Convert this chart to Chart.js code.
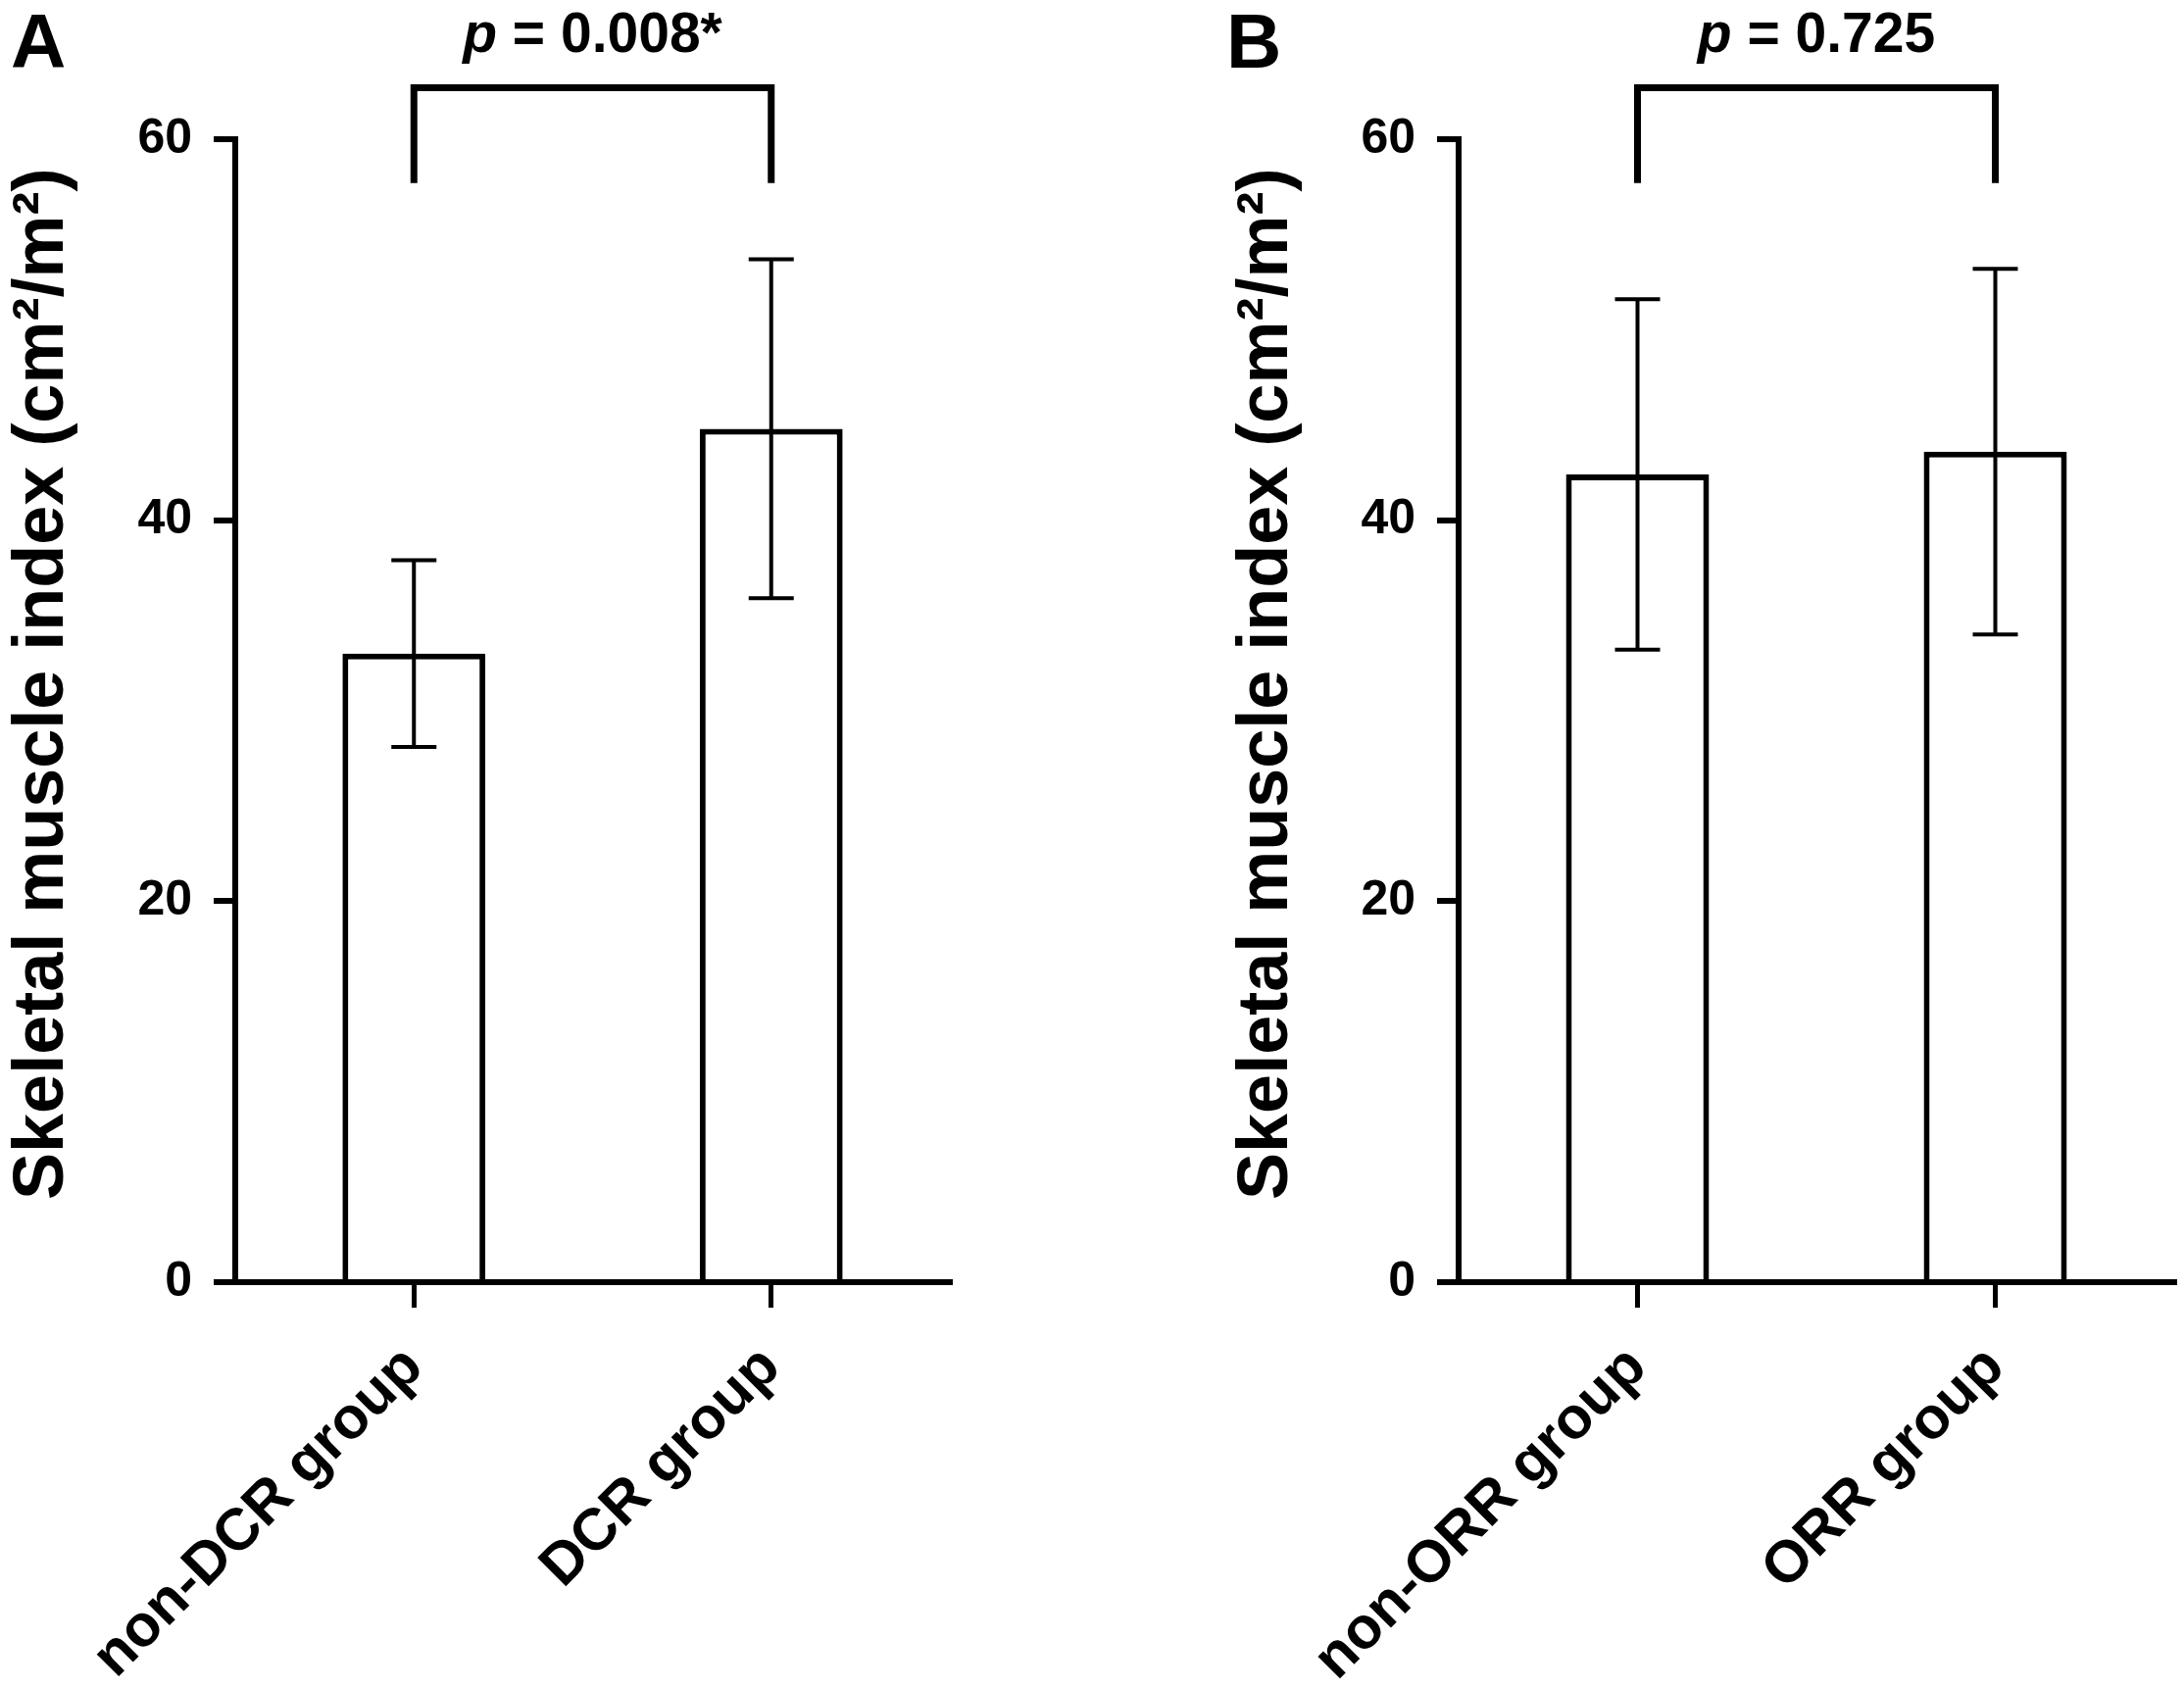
<!DOCTYPE html>
<html>
<head>
<meta charset="utf-8">
<script src="https://cdn.jsdelivr.net/npm/chart.js@4.4.1/dist/chart.umd.min.js"></script>
<style>
  html, body { margin: 0; padding: 0; background: #fff; }
  #wrap { position: relative; width: 2228px; height: 1722px; background: #fff; }
  canvas { position: absolute; top: 0; }
  #chartA { left: 0; }
  #chartB { left: 1114px; }
</style>
</head>
<body>
<div id="wrap">
  <canvas id="chartA" width="1114" height="1722"></canvas>
  <canvas id="chartB" width="1114" height="1722"></canvas>
</div>
<script>
// data (mean and SD)
const dcrGroups = ['non-DCR group', 'DCR group'];
const dcrMeans = [33.0, 44.8];
const dcrSd = [4.9, 8.9];

const orrGroups = ['non-ORR group', 'ORR group'];
const orrMeans = [42.4, 43.6];
const orrSd = [9.2, 9.6];

const yTicks = [0, 20, 40, 60];
const yTitle = 'Skeletal muscle index (cm²/m²)';

const FONT = '"Liberation Sans", Arial, Helvetica, sans-serif';

/* error bars (mean ± SD) drawn through the scales
------------------------------------------------*/
const errorBars = {
  id: 'errorBars',
  afterDatasetsDraw(chart, args, opts) {
    const ctx = chart.ctx;
    const x = chart.scales.x, y = chart.scales.y;
    ctx.save();
    ctx.strokeStyle = '#000';
    ctx.lineWidth = 4;
    opts.means.forEach((m, i) => {
      const px = x.getPixelForValue(i);
      const hi = y.getPixelForValue(m + opts.sd[i]);
      const lo = y.getPixelForValue(m - opts.sd[i]);
      ctx.beginPath();
      ctx.moveTo(px, hi); ctx.lineTo(px, lo);
      ctx.moveTo(px - 23, hi); ctx.lineTo(px + 23, hi);
      ctx.moveTo(px - 23, lo); ctx.lineTo(px + 23, lo);
      ctx.stroke();
    });
    ctx.restore();
  }
};

/* significance bracket, p value, y title and panel letter
------------------------------------------------*/
const annotations = {
  id: 'annotations',
  afterDraw(chart, args, opts) {
    const ctx = chart.ctx;
    const x = chart.scales.x, y = chart.scales.y;
    const x0 = x.getPixelForValue(0), x1 = x.getPixelForValue(1);
    const yTop = y.getPixelForValue(62.7), yBot = y.getPixelForValue(57.7);
    ctx.save();
    ctx.strokeStyle = '#000';
    ctx.lineWidth = 7;
    ctx.lineJoin = 'miter';
    ctx.beginPath();
    ctx.moveTo(x0, yBot); ctx.lineTo(x0, yTop); ctx.lineTo(x1, yTop); ctx.lineTo(x1, yBot);
    ctx.stroke();

    // p value text: italic p + rest
    ctx.fillStyle = '#000';
    ctx.textBaseline = 'alphabetic';
    ctx.textAlign = 'left';
    const pFont = 'italic bold 57px ' + FONT;
    const rFont = 'bold 57px ' + FONT;
    ctx.font = pFont;
    const wp = ctx.measureText('p').width;
    ctx.font = rFont;
    const rest = ' = ' + opts.p;
    const wr = ctx.measureText(rest).width;
    const startX = (x0 + x1) / 2 - (wp + wr) / 2;
    const baseY = y.getPixelForValue(64.6);
    ctx.font = pFont;
    ctx.fillText('p', startX, baseY);
    ctx.font = rFont;
    ctx.fillText(rest, startX + wp, baseY);

    // panel letter
    ctx.font = 'bold 78px ' + FONT;
    ctx.fillText(opts.letter, opts.letterX, 69);

    // y axis title, rotated, centred a little above the plot middle
    ctx.save();
    ctx.translate(opts.titleX, y.getPixelForValue(31.4));
    ctx.rotate(-Math.PI / 2);
    ctx.font = 'bold 72px ' + FONT;
    ctx.textAlign = 'center';
    ctx.textBaseline = 'middle';
    ctx.fillText(yTitle, 0, 0);
    ctx.restore();

    ctx.restore();
  }
};

function makePanel(id, labels, means, sd, letter, pText, padLeft, axisWidth, padRight, letterX) {
  const tickFont = { family: FONT, size: 50, weight: 'bold' };
  return new Chart(document.getElementById(id), {
    type: 'bar',
    data: {
      labels: labels,
      datasets: [{
        data: means,
        backgroundColor: '#fff',
        borderColor: '#000',
        borderWidth: 6,
        barPercentage: 0.8,
        categoryPercentage: 0.5
      }]
    },
    options: {
      responsive: false,
      animation: false,
      devicePixelRatio: 1,
      layout: { padding: { top: 142, right: padRight, left: padLeft, bottom: 0 } },
      plugins: {
        legend: { display: false },
        tooltip: { enabled: false },
        errorBars: { means: means, sd: sd },
        annotations: { p: pText, letter: letter, letterX: letterX, titleX: padLeft + 44 }
      },
      scales: {
        x: {
          offset: true,
          grid: {
            display: true, offset: false, drawOnChartArea: false, drawTicks: true,
            tickLength: 26, tickWidth: 5, tickColor: '#000', lineWidth: 5, color: '#000'
          },
          border: { display: true, color: '#000', width: 6 },
          ticks: {
            color: '#000', autoSkip: false, minRotation: 45, maxRotation: 45, padding: 26,
            font: { family: FONT, size: 60, weight: 'bold' }
          },
          afterFit(s) { s.height = 414; }
        },
        y: {
          min: 0,
          max: 60,
          afterBuildTicks(s) { s.ticks = yTicks.map(v => ({ value: v })); },
          grid: {
            display: true, drawOnChartArea: false, drawTicks: true,
            tickLength: 22, tickWidth: 6, tickColor: '#000', lineWidth: 6, color: '#000'
          },
          border: { display: true, color: '#000', width: 6 },
          ticks: { color: '#000', padding: 22, font: tickFont },
          title: { display: false },
          afterFit(s) { s.width = axisWidth; }
        }
      }
    },
    plugins: [errorBars, annotations]
  });
}

makePanel('chartA', dcrGroups, dcrMeans, dcrSd, 'A', '0.008*', 0, 240, 145, 11);
makePanel('chartB', orrGroups, orrMeans, orrSd, 'B', '0.725', 135, 239, 10, 137);
</script>
</body>
</html>
